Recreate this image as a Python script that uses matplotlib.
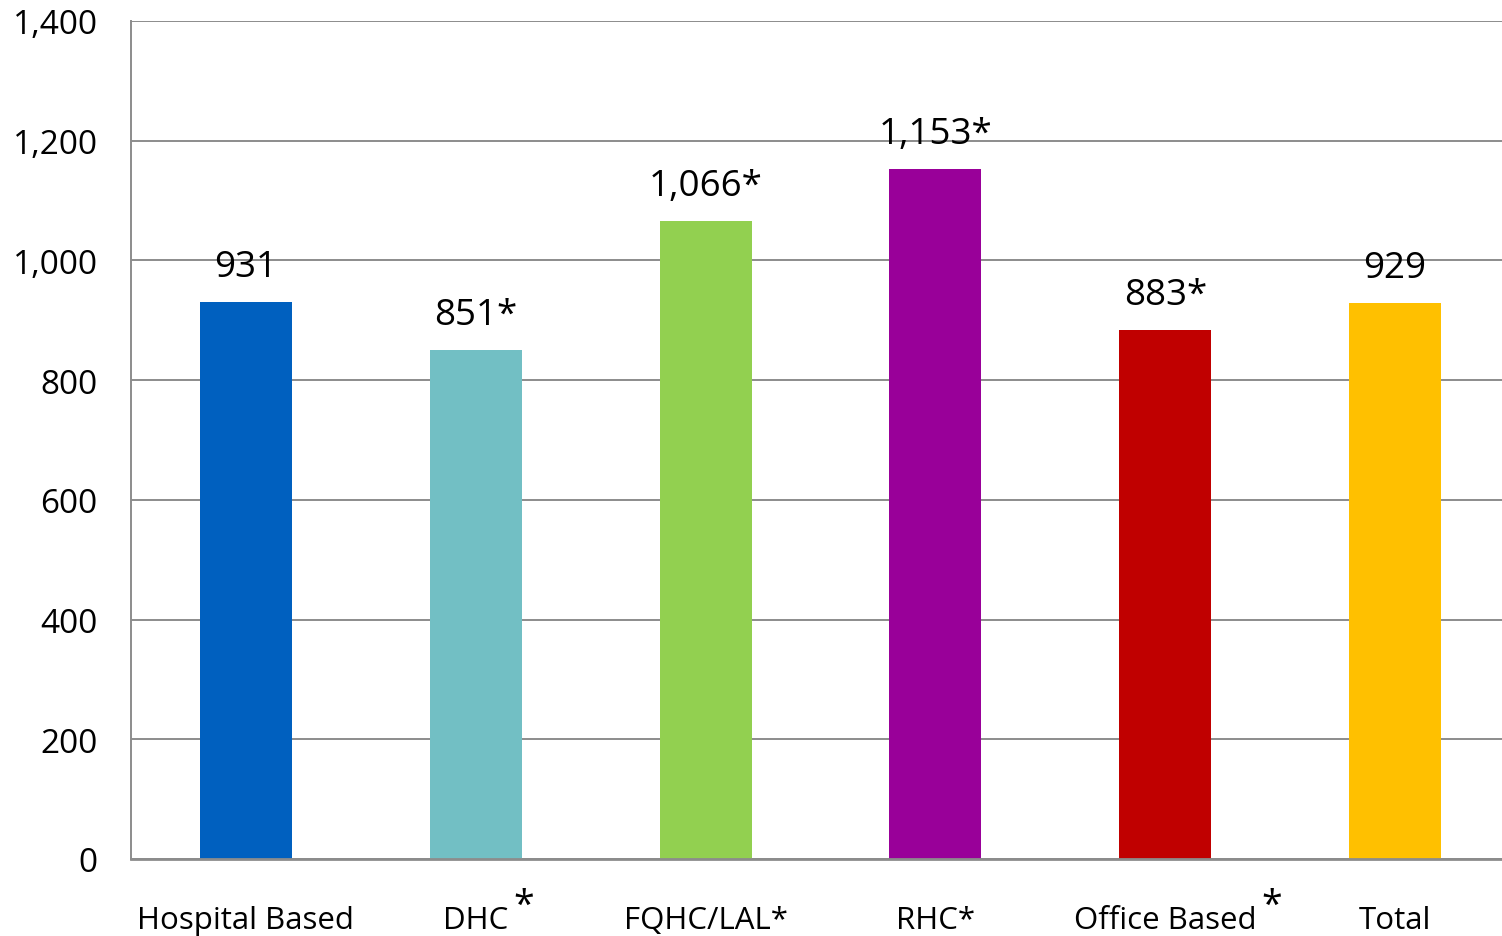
import matplotlib
matplotlib.use("Agg")
import matplotlib.pyplot as plt
from matplotlib.ticker import FuncFormatter, MultipleLocator

categories = ["Hospital Based", "DHC", "FQHC/LAL*", "RHC*", "Office Based", "Total"]
values = [931, 851, 1066, 1153, 883, 929]
value_labels = ["931", "851*", "1,066*", "1,153*", "883*", "929"]
raised_star = [False, True, False, False, True, False]
colors = ["#0060BF", "#72BFC4", "#92D050", "#990099", "#C00000", "#FFC000"]

plt.rcParams["font.family"] = ["Open Sans", "DejaVu Sans"]

W, H = 1502, 937
fig = plt.figure(figsize=(W / 100, H / 100), dpi=100)
# plot area runs slightly past the right edge of the figure
ax = fig.add_axes([131 / W, 1 - 860 / H, 1379 / W, (860 - 22) / H])

x = range(len(categories))
bars = ax.bar(x, values, width=0.4, color=colors, zorder=2)

ax.set_ylim(0, 1400)
ax.set_xlim(-0.5, len(categories) - 0.5)
ax.yaxis.set_major_locator(MultipleLocator(200))
ax.yaxis.set_major_formatter(FuncFormatter(lambda v, p: f"{int(v):,}"))
ax.grid(axis="y", color="#8c8c8c", linewidth=1.4, zorder=0)
ax.set_axisbelow(True)

for side in ("top", "right"):
    ax.spines[side].set_visible(False)
ax.spines["left"].set_color("#8c8c8c")
ax.spines["left"].set_linewidth(1.4)
ax.spines["bottom"].set_color("#8c8c8c")
ax.spines["bottom"].set_linewidth(2.0)
ax.spines["bottom"].set_zorder(3)

ax.set_xticks(list(x))
ax.set_xticklabels(categories)
ax.tick_params(axis="x", length=0, pad=33, labelsize=22.5)
ax.tick_params(axis="y", length=0, pad=24, labelsize=24)

for rect, lab in zip(bars, value_labels):
    ax.annotate(lab, xy=(rect.get_x() + rect.get_width() / 2, rect.get_height()),
                xytext=(0, 17), textcoords="offset pixels",
                ha="center", va="bottom", fontsize=26.5)

# raised asterisks after selected category labels
fig.canvas.draw()
renderer = fig.canvas.get_renderer()
for lbl, star in zip(ax.get_xticklabels(), raised_star):
    if star:
        bb = lbl.get_window_extent(renderer)
        fig.text((bb.x1 + 5) / W, (bb.y1 - 1) / H, "*",
                 ha="left", va="center", fontsize=27)

fig.savefig("out.png", dpi=100)
